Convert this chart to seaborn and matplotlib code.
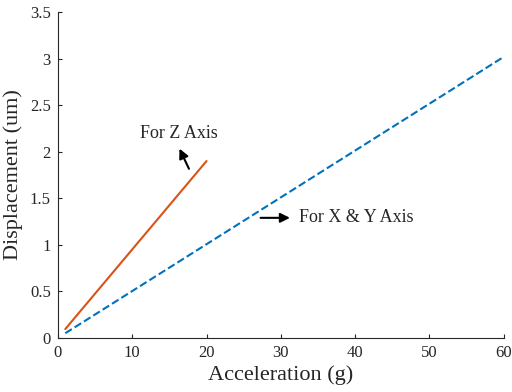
import matplotlib
matplotlib.use("Agg")
import matplotlib.pyplot as plt
import seaborn as sns
import pandas as pd

# values
accel_z = [1, 20]
disp_z = [0.095, 1.9]
accel_xy = [1, 60]
disp_xy = [0.05, 3.02]

x_ticks = [0, 10, 20, 30, 40, 50, 60]
y_ticks = [0, 0.5, 1, 1.5, 2, 2.5, 3, 3.5]
y_tick_labels = ["0", "0.5", "1", "1.5", "2", "2.5", "3", "3.5"]

sns.set_style("ticks")
plt.rcParams['font.family'] = ['Liberation Serif', 'DejaVu Serif']
plt.rcParams['xtick.direction'] = 'in'
plt.rcParams['ytick.direction'] = 'in'

z_df = pd.DataFrame({"acc": accel_z, "disp": disp_z})
xy_df = pd.DataFrame({"acc": accel_xy, "disp": disp_xy})

fig = plt.figure(figsize=(5.12, 3.92), dpi=100)
ax = fig.add_axes([0.113, 0.138, 0.871, 0.831])

sns.lineplot(data=z_df, x="acc", y="disp", ax=ax, color="#D95319", linewidth=1.5)
sns.lineplot(data=xy_df, x="acc", y="disp", ax=ax, color="#0072BD", linewidth=1.5,
             linestyle="--")

ax.set_xlim(0, 60)
ax.set_ylim(0, 3.5)
ax.set_xticks(x_ticks)
ax.set_yticks(y_ticks)
ax.set_yticklabels(y_tick_labels)
ax.tick_params(labelsize=12, colors="#262626", length=3, width=0.8, pad=5)
for side in ["left", "bottom"]:
    ax.spines[side].set_color("#262626")
    ax.spines[side].set_linewidth(0.8)
sns.despine(ax=ax)

ax.set_xlabel("Acceleration (g)", fontsize=16, color="#262626", labelpad=3)
ax.set_ylabel("Displacement (um)", fontsize=16, color="#262626", labelpad=5)

ax.annotate("", xy=(16.2, 2.06), xytext=(17.8, 1.79),
            arrowprops=dict(arrowstyle="-|>", color="black", lw=1.5, mutation_scale=14))
ax.text(11.0, 2.2, "For Z Axis", fontsize=13, va="center", ha="left")

ax.annotate("", xy=(31.6, 1.29), xytext=(26.9, 1.29),
            arrowprops=dict(arrowstyle="-|>", color="black", lw=1.5, mutation_scale=14))
ax.text(32.4, 1.29, "For X & Y Axis", fontsize=13, va="center", ha="left")

ax.grid(False)
fig.savefig("out.png", dpi=100)
